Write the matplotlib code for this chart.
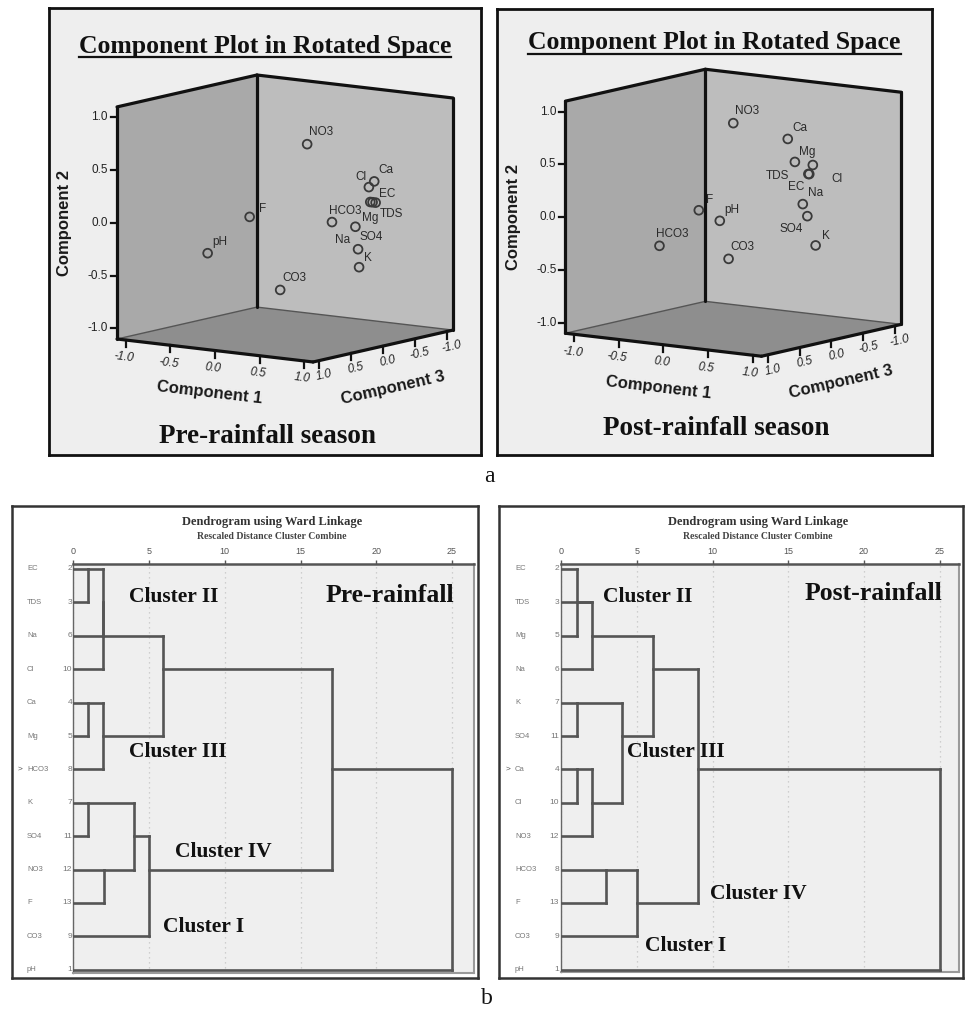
import matplotlib
matplotlib.use('Agg')
import matplotlib.pyplot as plt
import numpy as np
from matplotlib import transforms
from matplotlib.lines import Line2D
from matplotlib.patches import Polygon

# ---------------- data ----------------
variables = ['pH', 'EC', 'TDS', 'Ca', 'Mg', 'Na', 'K', 'HCO3', 'CO3', 'Cl', 'SO4', 'NO3', 'F']

# rotated component loadings, pre-rainfall season
pre_c1 = [-0.44, 0.91, 0.85, 0.93, 0.79, 0.84, 0.76, 0.67, 0.16, 0.87, 0.82, 0.32, -0.04]
pre_c2 = [-0.29, 0.22, 0.22, 0.43, 0.00, 0.21, -0.40, 0.06, -0.62, 0.37, -0.21, 0.75, 0.08]
pre_c3 = [0.60, -0.15, -0.15, -0.10, 0.00, -0.20, -0.10, 0.20, 0.30, -0.10, 0.00, 0.10, 0.50]

# rotated component loadings, post-rainfall season
post_c1 = [-0.01, 0.78, 0.77, 0.61, 0.69, 0.85, 0.78, -0.33, 0.16, 0.82, 0.83, 0.07, 0.04]
post_c2 = [-0.05, 0.43, 0.43, 0.76, 0.55, 0.18, -0.26, -0.25, -0.38, 0.52, 0.05, 0.87, 0.11]
post_c3 = [0.20, -0.10, -0.10, 0.00, 0.00, 0.10, -0.20, 0.70, 0.30, -0.10, 0.00, 0.10, 0.60]

axis_ticks = [-1.0, -0.5, 0.0, 0.5, 1.0]

# dendrogram (Ward linkage, rescaled distance 0-25)
pre_order = ['EC', 'TDS', 'Na', 'Cl', 'Ca', 'Mg', 'HCO3', 'K', 'SO4', 'NO3', 'F', 'CO3', 'pH']
pre_case = [2, 3, 6, 10, 4, 5, 8, 7, 11, 12, 13, 9, 1]
pre_merges = [('EC', 'TDS', 0.99), ('m0', 'Na', 1.98), ('m1', 'Cl', 1.99),
              ('Ca', 'Mg', 0.99), ('m3', 'HCO3', 1.98), ('m2', 'm4', 5.95),
              ('K', 'SO4', 0.99), ('NO3', 'F', 2.05), ('m6', 'm7', 4.03),
              ('m8', 'CO3', 5.02), ('m5', 'm9', 17.07), ('m10', 'pH', 25.0)]

post_order = ['EC', 'TDS', 'Mg', 'Na', 'K', 'SO4', 'Ca', 'Cl', 'NO3', 'HCO3', 'F', 'CO3', 'pH']
post_case = [2, 3, 5, 6, 7, 11, 4, 10, 12, 8, 13, 9, 1]
post_merges = [('EC', 'Mg', 1.04), ('m0', 'TDS', 2.00), ('m1', 'Na', 2.03),
               ('K', 'SO4', 1.04), ('Ca', 'Cl', 1.04), ('m4', 'NO3', 2.03),
               ('m3', 'm5', 4.00), ('m2', 'm6', 6.04), ('HCO3', 'F', 3.00),
               ('m8', 'CO3', 5.00), ('m7', 'm9', 9.07), ('m10', 'pH', 25.0)]
dist_ticks = [0, 5, 10, 15, 20, 25]

# ---------------- styles / layout ----------------
# label offsets (pixels, dx right, dy down) for point labels
pre_lab_off = {'pH': (5, -8), 'EC': (3, -6), 'TDS': (10, 15), 'Ca': (4, -8), 'Mg': (7, -6),
               'Na': (-38, 41), 'K': (5, -6), 'HCO3': (-3, -8), 'CO3': (2, -9), 'Cl': (-14, -7),
               'SO4': (1, -9), 'NO3': (2, -9), 'F': (9, -5)}
post_lab_off = {'pH': (4, -8), 'EC': (-21, 16), 'TDS': (-43, 5), 'Ca': (5, -8), 'Mg': (4, -7),
                'Na': (5, -8), 'K': (6, -6), 'HCO3': (-3, -9), 'CO3': (2, -9), 'Cl': (19, 17),
                'SO4': (-28, 16), 'NO3': (2, -9), 'F': (7, -7)}

W, H = 965, 1015
SERIF = 'Liberation Serif'
SANS = 'Liberation Sans'

fig = plt.figure(figsize=(W / 100, H / 100), dpi=100)
fig.patch.set_facecolor('white')


def ax_px(x0, y0, x1, y1, **kw):
    return fig.add_axes([x0 / W, 1 - y1 / H, (x1 - x0) / W, (y1 - y0) / H], **kw)


def T(x, y, s, **kw):
    return fig.text(x / W, 1 - y / H, s, **kw)


# oblique projection of the SPSS 3-D box (pixels per unit loading)
K1 = (89.1, -10.45)
K2 = (0.0, 105.5)
K3 = (-63.6, -14.5)


def proj(c1, c2, c3):
    c1, c2, c3 = np.asarray(c1, float), np.asarray(c2, float), np.asarray(c3, float)
    return (K1[0] * c1 + K2[0] * c2 + K3[0] * c3,
            K1[1] * c1 + K2[1] * c2 + K3[1] * c3)


underlines = []


def component_panel(box, center, c1, c2, c3, offs, season, title_y, season_y):
    x0, y0, x1, y1 = box
    cx, cy = center
    ax = ax_px(x0, y0, x1, y1)
    ax.set_xlim(x0 - cx, x1 - cx)
    ax.set_ylim(cy - y1, cy - y0)
    ax.set_facecolor('#eeeeee')
    ax.set_xticks([])
    ax.set_yticks([])
    for sp in ax.spines.values():
        sp.set_linewidth(2.0)
        sp.set_color('#111111')
    L = 1.1
    faces = [
        ([(-L, -L, L), (-L, L, L), (-L, L, -L), (-L, -L, -L)], '#a9a9a9'),
        ([(-L, -L, -L), (-L, L, -L), (L, L, -L), (L, -L, -L)], '#bdbdbd'),
        ([(-L, -L, L), (L, -L, L), (L, -L, -L), (-L, -L, -L)], '#8e8e8e'),
    ]
    for pts, col in faces:
        a = np.array(pts)
        u, v = proj(a[:, 0], a[:, 1], a[:, 2])
        ax.add_patch(Polygon(np.column_stack([u, v]), closed=True, facecolor=col,
                             edgecolor='none', zorder=1))
    thin = [((-L, -L, L), (-L, -L, -L)), ((-L, -L, -L), (L, -L, -L))]
    for a, b in thin:
        u, v = proj([a[0], b[0]], [a[1], b[1]], [a[2], b[2]])
        ax.plot(u, v, color='#555555', lw=1.0, zorder=2)
    thick = [((-L, -L, L), (-L, L, L)), ((-L, L, L), (-L, L, -L)), ((-L, -L, -L), (-L, L, -L)),
             ((-L, L, -L), (L, L, -L)), ((L, L, -L), (L, -L, -L)), ((-L, -L, L), (L, -L, L)),
             ((L, -L, L), (L, -L, -L))]
    for a, b in thick:
        u, v = proj([a[0], b[0]], [a[1], b[1]], [a[2], b[2]])
        ax.plot(u, v, color='#111111', lw=2.3, solid_capstyle='round', zorder=3)

    # ticks
    tk = dict(color='#111111', lw=1.6, zorder=3, clip_on=False)
    tf = dict(fontsize=8.5, family=SANS, color='#222222')
    ang1 = np.degrees(np.arctan2(K1[1], K1[0]))
    ang3 = np.degrees(np.arctan2(-K3[1], -K3[0]))
    for t in axis_ticks:
        u, v = proj(-L, t, L)
        ax.plot([u - 6, u], [v, v], **tk)
        ax.text(u - 9, v, f'{t:.1f}', ha='right', va='center', **tf)
        u, v = proj(t, -L, L)
        ax.plot([u, u], [v, v - 7], **tk)
        ax.text(u - 2, v - 17.5, f'{t:.1f}', ha='center', va='center', rotation=ang1,
                rotation_mode='anchor', style='italic', **tf)
        u, v = proj(L, -L, t)
        ax.plot([u, u], [v, v - 7], **tk)
        ax.text(u + 5, v - 15, f'{t:.1f}', ha='center', va='center', rotation=ang3,
                rotation_mode='anchor', style='italic', **tf)
    lf = dict(fontsize=12, family=SANS, fontweight='bold', color='#1a1a1a')
    ax.text(-220, -4.5, 'Component 2', rotation=90, ha='center', va='center', **lf)
    ax.text(-75, -174.5, 'Component 1', rotation=ang1, ha='center', va='center',
            rotation_mode='anchor', **lf)
    ax.text(108, -169.5, 'Component 3', rotation=ang3, ha='center', va='center',
            rotation_mode='anchor', **lf)

    u, v = proj(c1, c2, c3)
    ax.scatter(u, v, s=40, facecolors='none', edgecolors='#3a3a3a', linewidths=1.3, zorder=5)
    for name, uu, vv in zip(variables, u, v):
        dx, dy = offs[name]
        ax.annotate(name, (uu, vv), xytext=(dx, -dy), textcoords='offset pixels',
                    ha='left', va='baseline', fontsize=8.5, family=SANS, color='#2a2a2a', zorder=6)

    xc = (x0 + x1) / 2
    t = T(xc, title_y, 'Component Plot in Rotated Space', ha='center', va='center',
          fontsize=18.5, family=SERIF, fontweight='bold', color='#111111')
    underlines.append(t)
    T(xc + 2, season_y, season, ha='center', va='center', fontsize=19.5, family=SERIF,
      fontweight='bold', color='#111111')
    return ax


component_panel((49, 8, 481, 455), (285, 218.5), pre_c1, pre_c2, pre_c3, pre_lab_off,
                'Pre-rainfall season', 46, 436.7)
component_panel((497, 9, 932, 455), (733.4, 212.75), post_c1, post_c2, post_c3, post_lab_off,
                'Post-rainfall season', 43, 428.3)

T(489, 477, 'a', ha='center', va='center', fontsize=17, family=SERIF, color='#111111')
T(487, 999, 'b', ha='center', va='center', fontsize=17, family=SERIF, color='#111111')


def dendro_panel(outer, plot, order, cases, merges, name_x, num_x, season, season_xy,
                 clusters, marker_row):
    ox0, oy0, ox1, oy1 = outer
    fr = ax_px(ox0, oy0, ox1, oy1)
    fr.set_xticks([])
    fr.set_yticks([])
    fr.set_facecolor('white')
    for sp in fr.spines.values():
        sp.set_linewidth(1.8)
        sp.set_color('#333333')
    fr.set_zorder(0)

    px0, py0, px1, py1 = plot
    ax = ax_px(px0, py0, px1, py1)
    unit = 15.15
    ax.set_xlim(0, (px1 - px0) / unit)
    row = 33.4
    ax.set_ylim((py1 - 569) / row, (py0 - 569) / row)
    ax.set_facecolor('#efefef')
    ax.set_zorder(1)
    ax.xaxis.tick_top()
    ax.set_xticks(dist_ticks)
    ax.set_xticklabels([str(d) for d in dist_ticks], fontsize=6.5, family=SANS, color='#555555')
    ax.tick_params(axis='x', length=3, width=1, color='#555555', pad=3)
    ax.set_yticks([])
    ax.xaxis.grid(True, linestyle=(0, (1, 3)), color='#c4c4c4', lw=0.9)
    ax.set_axisbelow(True)
    ax.spines['top'].set_linewidth(1.8)
    ax.spines['top'].set_color('#555555')
    ax.spines['left'].set_linewidth(1.0)
    ax.spines['left'].set_color('#666666')
    for s in ('right', 'bottom'):
        ax.spines[s].set_linewidth(1.5)
        ax.spines[s].set_color('#9a9a9a')

    nodes = {n: (i, 0.0) for i, n in enumerate(order)}
    lc = dict(color='#555555', lw=1.9, solid_capstyle='projecting', zorder=3)
    for k, (a, b, d) in enumerate(merges):
        ra, xa = nodes[a]
        rb, xb = nodes[b]
        ax.plot([xa, d], [ra, ra], **lc)
        ax.plot([xb, d], [rb, rb], **lc)
        ax.plot([d, d], [ra, rb], **lc)
        nodes[f'm{k}'] = ((ra + rb) // 2, d)

    tr = transforms.blended_transform_factory(fig.transFigure, ax.transData)
    for i, (n, c) in enumerate(zip(order, cases)):
        fig.text(name_x / W, i, n, transform=tr, ha='left', va='center', fontsize=5.5,
                 family=SANS, color='#777777')
        fig.text(num_x / W, i, str(c), transform=tr, ha='right', va='center', fontsize=6,
                 family=SANS, color='#777777')
    fig.text((name_x - 9) / W, marker_row, '>', transform=tr, ha='left', va='center',
             fontsize=6, family=SANS, color='#555555')

    xc = (px0 + px1) / 2 - 2
    T(xc, 521.7, 'Dendrogram using Ward Linkage', ha='center', va='center', fontsize=9,
      family=SERIF, fontweight='bold', color='#333333')
    T(xc, 536.7, 'Rescaled Distance Cluster Combine', ha='center', va='center', fontsize=7,
      family=SERIF, fontweight='bold', color='#444444')
    T(season_xy[0], season_xy[1], season, ha='center', va='center', fontsize=18.5,
      family=SERIF, fontweight='bold', color='#111111', zorder=5)
    for text, x, y in clusters:
        T(x, y, text, ha='center', va='center', fontsize=15.5, family=SERIF,
          fontweight='bold', color='#111111', zorder=5)


dendro_panel((12, 506, 478, 978), (73.3, 564, 474, 973), pre_order, pre_case, pre_merges,
             27, 72, 'Pre-rainfall', (389.5, 595),
             [('Cluster II', 174, 596.7), ('Cluster III', 178, 752.3),
              ('Cluster IV', 223.3, 851.7), ('Cluster I', 204, 926.7)], 6)
dendro_panel((499, 506, 963, 978), (561, 564, 959, 971.7), post_order, post_case, post_merges,
             515, 559, 'Post-rainfall', (873.8, 593.3),
             [('Cluster II', 647.5, 596.7), ('Cluster III', 676, 751.7),
              ('Cluster IV', 758, 894.3), ('Cluster I', 685.5, 945.7)], 6)

# underline the component-plot titles
fig.canvas.draw()
r = fig.canvas.get_renderer()
for t in underlines:
    bb = t.get_window_extent(renderer=r)
    y = bb.y0 + 0.5
    fig.add_artist(Line2D([bb.x0 / W, bb.x1 / W], [y / H, y / H], transform=fig.transFigure,
                          color='#111111', lw=1.6))

fig.savefig('out.png', dpi=100, facecolor='white')
